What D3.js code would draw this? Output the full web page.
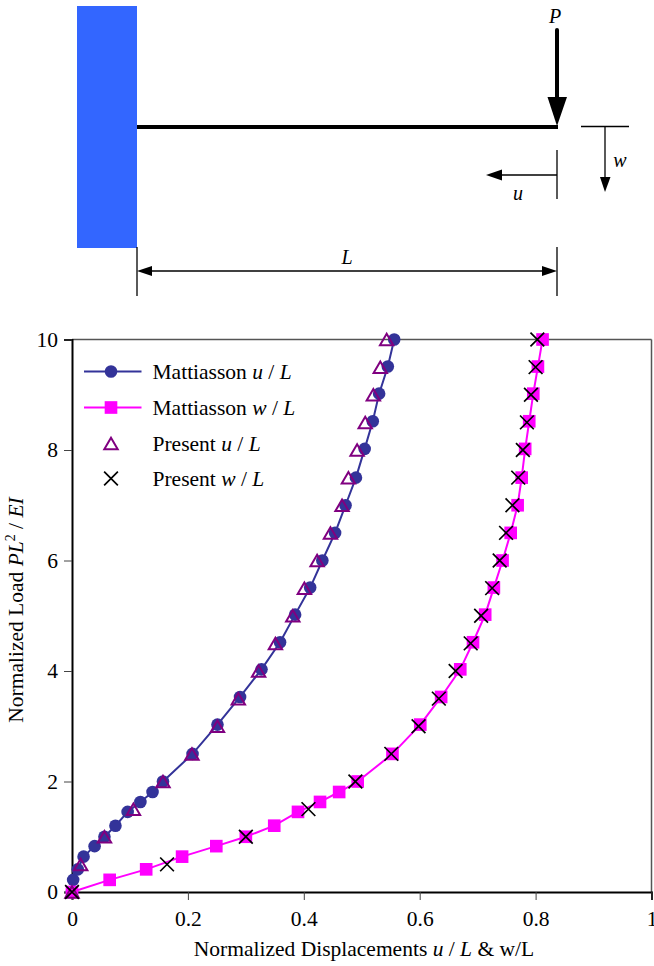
<!DOCTYPE html>
<html>
<head>
<meta charset="utf-8">
<script src="https://d3js.org/d3.v7.min.js"></script>
<style>
  html, body { margin: 0; padding: 0; background: #fff; }
  svg { display: block; }
  text { font-family: "Liberation Serif", serif; fill: #000; }
  .it { font-style: italic; }
</style>
</head>
<body>
<script>
const xTicks = [0, 0.2, 0.4, 0.6, 0.8, 1];
const yTicks = [0, 2, 4, 6, 8, 10];

const mattLoad = [0, 0.22, 0.41, 0.64, 0.83, 1.0, 1.2, 1.45, 1.63, 1.81, 2.0, 2.5, 3.03, 3.53, 4.03, 4.52, 5.02, 5.51, 6.0, 6.5, 7.0, 7.5, 8.02, 8.52, 9.02, 9.51, 10];
const mattU = [0, 0.002, 0.01, 0.02, 0.039, 0.056, 0.075, 0.096, 0.118, 0.139, 0.157, 0.208, 0.251, 0.29, 0.327, 0.359, 0.385, 0.411, 0.432, 0.454, 0.472, 0.49, 0.505, 0.519, 0.53, 0.545, 0.556];
const mattW = [0, 0.065, 0.128, 0.19, 0.249, 0.3, 0.349, 0.39, 0.428, 0.461, 0.493, 0.553, 0.601, 0.637, 0.67, 0.692, 0.713, 0.728, 0.743, 0.757, 0.769, 0.776, 0.782, 0.789, 0.796, 0.804, 0.812];

const presU = [0, 0.015, 0.056, 0.106, 0.157, 0.207, 0.251, 0.287, 0.322, 0.351, 0.381, 0.401, 0.423, 0.446, 0.466, 0.477, 0.492, 0.506, 0.52, 0.532, 0.543];
const presULoad = [0, 0.5, 1, 1.5, 2, 2.5, 3, 3.5, 4, 4.5, 5, 5.5, 6, 6.5, 7, 7.5, 8, 8.5, 9, 9.5, 10];
const presW = [0, 0.164, 0.3, 0.408, 0.489, 0.551, 0.598, 0.633, 0.662, 0.688, 0.706, 0.725, 0.738, 0.749, 0.76, 0.77, 0.778, 0.785, 0.792, 0.8, 0.803];
const presWLoad = presULoad;

const BLUE = "#333399", MAGENTA = "#ff00ff", PURPLE = "#800080";

const width = 654, height = 966;
const margin = { top: 340, right: 2.5, bottom: 74, left: 72 };
const fontSize = 21.5;

const svg = d3.select("body").append("svg")
  .attr("width", width)
  .attr("height", height);

// beam sketch above the chart
const sketch = svg.append("g");

const seg = (x1, y1, x2, y2, w) => sketch.append("line")
  .attr("x1", x1).attr("y1", y1).attr("x2", x2).attr("y2", y2)
  .attr("stroke", "#000").attr("stroke-width", w);
const head = pts => sketch.append("polygon").attr("points", pts).attr("fill", "#000");
const label = (x, y, t) => sketch.append("text")
  .attr("class", "it").attr("x", x).attr("y", y)
  .attr("text-anchor", "middle").attr("font-size", 20).text(t);

sketch.append("rect").attr("x", 77).attr("y", 6).attr("width", 60).attr("height", 242).attr("fill", "#3366ff");
seg(137, 127, 558, 127, 4);

seg(557, 30, 557, 100, 4).attr("stroke-linecap", "round");
head("547.5,97 567,97 557,126");
label(555, 23, "P");

seg(581, 126.5, 629, 126.5, 1.3);
seg(605, 127, 605, 180, 1.3);
head("600,177 610.5,177 605,192");
label(620, 167, "w");

seg(557, 150, 557, 199, 1.3);
seg(500, 175, 557, 175, 1.3);
head("486,175 502,169.5 502,180.5");
label(518, 200, "u");

seg(137, 247, 137, 296, 1.3);
seg(557, 247, 557, 296, 1.3);
seg(150, 271, 545, 271, 1.3);
head("137,271 152,266 152,276");
head("557,271 542,266 542,276");
label(347, 264, "L");

// chart
const x = d3.scaleLinear().domain([0, 1]).range([margin.left, width - margin.right]);
const y = d3.scaleLinear().domain([0, 10]).range([height - margin.bottom, margin.top - 0.5]);

const axes = svg.append("g");

axes.append("line").attr("x1", x(0)).attr("x2", x(1)).attr("y1", y(10)).attr("y2", y(10))
  .attr("stroke", "#555").attr("stroke-width", 1.5);
axes.append("line").attr("x1", x(1)).attr("x2", x(1)).attr("y1", y(10)).attr("y2", y(0))
  .attr("stroke", "#555").attr("stroke-width", 1.5);

const xAxis = axes.append("g")
  .attr("transform", `translate(0, ${y(0)})`)
  .call(d3.axisBottom(x).tickValues(xTicks).tickFormat(d3.format("~g")).tickSize(8).tickPadding(11));
const yAxis = axes.append("g")
  .attr("transform", `translate(${x(0)}, 0)`)
  .call(d3.axisLeft(y).tickValues(yTicks).tickSize(8).tickPadding(6));

[xAxis, yAxis].forEach(a => {
  a.select(".domain").attr("stroke", "#000").attr("stroke-width", 2);
  a.selectAll(".tick line").attr("stroke", "#444").attr("stroke-width", 1);
  a.selectAll(".tick text")
    .attr("font-family", '"Liberation Serif", serif')
    .attr("font-size", fontSize)
    .attr("fill", "#000");
});

const line = d3.line().x(d => x(d[0])).y(d => y(d[1]));
const zip = (a, b) => a.map((v, i) => [v, b[i]]);

const plot = svg.append("g");

const triangle = d3.symbol(d3.symbolTriangle, 78)();
const square = d3.symbol(d3.symbolSquare, 160)();
const times = d3.symbol(d3.symbolTimes, 125)();

plot.append("path").attr("d", line(zip(mattU, mattLoad)))
  .attr("fill", "none").attr("stroke", BLUE).attr("stroke-width", 2);
plot.selectAll(".matt-u").data(zip(mattU, mattLoad)).enter().append("circle")
  .attr("class", "matt-u")
  .attr("cx", d => x(d[0])).attr("cy", d => y(d[1])).attr("r", 6.3)
  .attr("fill", BLUE);

plot.append("path").attr("d", line(zip(mattW, mattLoad)))
  .attr("fill", "none").attr("stroke", MAGENTA).attr("stroke-width", 2);
plot.selectAll(".matt-w").data(zip(mattW, mattLoad)).enter().append("path")
  .attr("class", "matt-w")
  .attr("d", square)
  .attr("transform", d => `translate(${x(d[0])}, ${y(d[1])})`)
  .attr("fill", MAGENTA);

plot.selectAll(".pres-u").data(zip(presU, presULoad)).enter().append("path")
  .attr("class", "pres-u")
  .attr("d", triangle)
  .attr("transform", d => `translate(${x(d[0])}, ${y(d[1]) + 2})`)
  .attr("fill", "none").attr("stroke", PURPLE).attr("stroke-width", 2);

plot.selectAll(".pres-w").data(zip(presW, presWLoad)).enter().append("path")
  .attr("class", "pres-w")
  .attr("d", times)
  .attr("transform", d => `translate(${x(d[0])}, ${y(d[1])})`)
  .attr("fill", "none").attr("stroke", "#000").attr("stroke-width", 1.7);

// axis titles
const xTitle = svg.append("text")
  .attr("x", 364).attr("y", 956)
  .attr("text-anchor", "middle").attr("font-size", fontSize);
xTitle.append("tspan").text("Normalized Displacements ");
xTitle.append("tspan").attr("class", "it").text("u");
xTitle.append("tspan").text(" / ");
xTitle.append("tspan").attr("class", "it").text("L");
xTitle.append("tspan").text(" & w/L");

const yTitle = svg.append("text")
  .attr("transform", "translate(23, 610) rotate(-90)")
  .attr("text-anchor", "middle").attr("font-size", fontSize);
yTitle.append("tspan").text("Normalized Load ");
yTitle.append("tspan").attr("class", "it").text("PL");
yTitle.append("tspan").attr("dy", -8).attr("font-size", 14).text("2");
yTitle.append("tspan").attr("dy", 8).text(" / ");
yTitle.append("tspan").attr("class", "it").text("EI");

// legend
const legendItems = [
  { name: "Mattiasson ", v: "u", y: 371.5 },
  { name: "Mattiasson ", v: "w", y: 407.5 },
  { name: "Present ", v: "u", y: 443.5 },
  { name: "Present ", v: "w", y: 478.5 }
];
const legend = svg.append("g");
legendItems.forEach((d, i) => {
  if (i < 2) {
    legend.append("line").attr("x1", 84).attr("x2", 141.5).attr("y1", d.y).attr("y2", d.y)
      .attr("stroke", i ? MAGENTA : BLUE).attr("stroke-width", 2);
  }
  if (i === 0) legend.append("circle").attr("cx", 111).attr("cy", d.y).attr("r", 6.3).attr("fill", BLUE);
  if (i === 1) legend.append("path").attr("d", square).attr("transform", `translate(111, ${d.y})`).attr("fill", MAGENTA);
  if (i === 2) legend.append("path").attr("d", triangle).attr("transform", `translate(111, ${d.y + 2})`)
    .attr("fill", "none").attr("stroke", PURPLE).attr("stroke-width", 2);
  if (i === 3) legend.append("path").attr("d", times).attr("transform", `translate(111, ${d.y})`)
    .attr("fill", "none").attr("stroke", "#000").attr("stroke-width", 1.7);
  const t = legend.append("text").attr("x", 152.5).attr("y", d.y + 7).attr("font-size", fontSize);
  t.append("tspan").text(d.name);
  t.append("tspan").attr("class", "it").text(d.v);
  t.append("tspan").text(" / ");
  t.append("tspan").attr("class", "it").text("L");
});
</script>
</body>
</html>
